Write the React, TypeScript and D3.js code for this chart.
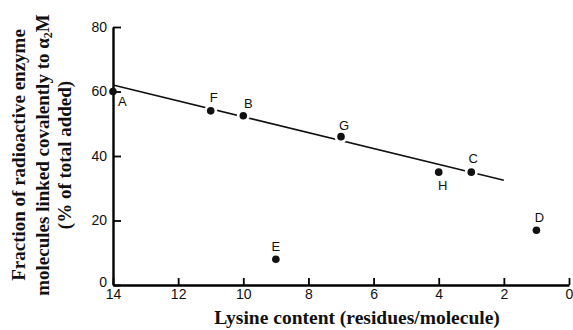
import * as d3 from 'd3';
import { useRef, useEffect } from 'react';

const labels = ['A', 'F', 'B', 'G', 'H', 'C', 'D', 'E'];
const lysine = [14, 11, 10, 7, 4, 3, 1, 9];
const fraction = [60, 54, 52.5, 46, 35, 35, 17, 8];
const fitX = [14, 2];
const fitY = [62, 32.5];
const xTicks = [14, 12, 10, 8, 6, 4, 2, 0];
const yTicks = [0, 20, 40, 60, 80];

// where each letter sits relative to its dot
const labelOffset: Record<string, [number, number, string]> = {
    A: [5, 14, 'start'],
    F: [3, -9, 'middle'],
    B: [5, -8, 'middle'],
    G: [3, -7, 'middle'],
    H: [4, 18, 'middle'],
    C: [2, -9, 'middle'],
    D: [3, -8, 'middle'],
    E: [0, -8, 'middle'],
};

const W = 573;
const H = 330;
const margin = { left: 113, right: 4, top: 27, bottom: 45 };
const sansFont = '"Liberation Sans", Arial, sans-serif';
const serifFont = '"Liberation Serif", "Times New Roman", serif';

export default function App() {
    const ref = useRef<SVGSVGElement>(null);

    useEffect(() => {
        const svg = d3.select(ref.current);
        svg.selectAll('*').remove();

        const x = d3.scaleLinear().domain([14, 0]).range([margin.left, W - margin.right]);
        const y = d3.scaleLinear().domain([0, 80]).range([H - margin.bottom, margin.top]);

        // x axis, ticks pointing inward
        const xAxis = svg.append('g')
            .attr('transform', `translate(0,${y(0)})`)
            .call(d3.axisBottom(x).tickValues(xTicks).tickSize(-7).tickSizeOuter(0).tickPadding(4));
        xAxis.select('.domain').attr('stroke-width', 2.4);
        xAxis.selectAll('.tick line').attr('stroke-width', 1.8);
        xAxis.selectAll('.tick text')
            .attr('font-family', sansFont).attr('font-size', 14).attr('fill', '#111');

        // y axis
        const yAxis = svg.append('g')
            .attr('transform', `translate(${x(14)},0)`)
            .call(d3.axisLeft(y).tickValues(yTicks).tickSize(-8).tickSizeOuter(0).tickPadding(6));
        yAxis.select('.domain').attr('stroke-width', 2.4);
        yAxis.selectAll('.tick line').attr('stroke-width', 1.8);
        yAxis.selectAll('.tick text')
            .attr('font-family', sansFont).attr('font-size', 14).attr('fill', '#111')
            .attr('y', (d) => (d === 0 ? -3 : 0));

        // fitted line
        const line = d3.line<number>().x((d, i) => x(fitX[i])).y((d) => y(d));
        svg.append('path')
            .datum(fitY)
            .attr('d', line)
            .attr('fill', 'none')
            .attr('stroke', '#111')
            .attr('stroke-width', 1.6);

        // points, with a white halo that breaks the line
        const pts = svg.append('g');
        labels.forEach((lab, i) => {
            const cx = x(lysine[i]);
            const cy = y(fraction[i]);
            if (lab !== 'A') {
                pts.append('circle').attr('cx', cx).attr('cy', cy).attr('r', 6.5).attr('fill', 'white');
            }
            pts.append('circle')
                .attr('cx', cx).attr('cy', cy).attr('r', 3.8)
                .attr('fill', '#111');
            const [dx, dy, anchor] = labelOffset[lab];
            pts.append('text')
                .attr('x', cx + dx).attr('y', cy + dy)
                .attr('text-anchor', anchor)
                .attr('font-family', sansFont)
                .attr('font-size', 13)
                .attr('fill', '#111')
                .text(lab);
        });

        // axis titles
        svg.append('text')
            .attr('x', (x(14) + x(0)) / 2 + 16)
            .attr('y', 324)
            .attr('text-anchor', 'middle')
            .attr('font-family', serifFont)
            .attr('font-size', 19.5)
            .attr('font-weight', 'bold')
            .attr('fill', '#111')
            .text('Lysine content (residues/molecule)');

        const yTitle = svg.append('text')
            .attr('transform', `translate(0,155) rotate(-90)`)
            .attr('text-anchor', 'middle')
            .attr('font-family', serifFont)
            .attr('font-size', 19)
            .attr('font-weight', 'bold')
            .attr('fill', '#111');
        yTitle.append('tspan').attr('x', 0).attr('y', 25).text('Fraction of radioactive enzyme');
        const l2 = yTitle.append('tspan').attr('x', 0).attr('y', 49);
        l2.append('tspan').text('molecules linked covalently to α');
        l2.append('tspan').attr('font-size', 12).attr('dy', 3).text('2');
        l2.append('tspan').attr('dy', -3).text('M');
        yTitle.append('tspan').attr('x', 0).attr('y', 71).text('(% of total added)');
    }, []);

    return (
        <svg
            ref={ref}
            width={W}
            height={H}
            style={{ position: 'absolute', left: 0, top: 0, background: 'white' }}
        />
    );
}
